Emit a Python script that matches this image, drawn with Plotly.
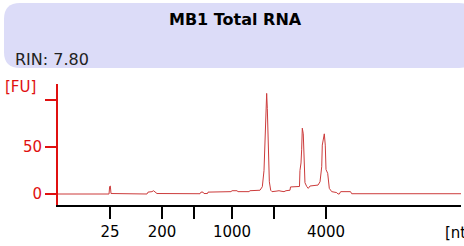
import plotly.graph_objects as go

# Electropherogram (migration time in seconds vs fluorescence units)
time_s = [19.00, 25.20, 25.33, 25.41, 25.49, 25.58, 30.04, 30.17, 30.66, 30.85,
          31.03, 31.28, 36.62, 36.74, 36.99, 37.11, 37.55, 37.61, 40.46, 40.59,
          41.21, 41.33, 42.70, 42.82, 44.06, 44.35, 44.56, 44.68, 44.81, 44.89,
          44.97, 45.09, 45.22, 45.39, 45.55, 46.05, 46.42, 46.67, 47.04, 47.29,
          47.78, 47.85, 48.96, 49.02, 49.15, 49.23, 49.31, 49.43, 49.56, 49.64,
          49.86, 50.05, 50.27, 51.26, 51.51, 51.72, 51.79, 51.92, 52.04, 52.16,
          52.25, 52.46, 52.66, 52.96, 53.58, 53.74, 53.90, 54.07, 55.29, 55.44,
          69.00]
fu = [0.0, 0.0, 0.0, 8.0, 8.5, 0.5, 0.0, 2.0, 2.5, 3.5,
      2.5, 0.5, 0.3, 2.0, 2.0, 0.5, 0.5, 2.0, 2.5, 3.5,
      3.5, 2.5, 2.5, 3.5, 4.0, 7.7, 25.0, 52.0, 95.0, 107.0,
      91.0, 56.0, 13.0, 4.0, 2.5, 3.0, 3.5, 3.0, 2.5, 3.5,
      4.0, 7.5, 8.0, 25.0, 33.0, 47.0, 70.0, 64.0, 36.0, 12.0,
      8.0, 6.0, 8.5, 9.5, 13.0, 29.0, 52.0, 57.0, 64.0, 52.0,
      26.0, 22.0, 6.0, 2.5, 1.5, 0.0, 0.0, 2.5, 2.5, 0.3,
      0.3]

ladder_times = [25.45, 31.90, 35.87, 40.59, 45.80, 52.25]
ladder_labels = ["25", "200", "", "1000", "", "4000"]
y_ticks = [0, 50, 100]
y_tick_labels = ["0", "50", ""]

title = "MB1 Total RNA"
rin_text = "RIN: 7.80"

W, H = 464, 246
ML, MR, MT, MB = 58, 3, 84, 41
PW, PH = W - ML - MR, H - MT - MB


def px(x):
    return (x - ML) / PW


def py(y):
    return (H - MB - y) / PH


fig = go.Figure()
fig.add_trace(go.Scatter(x=time_s, y=fu, mode="lines",
                         line=dict(color="#cc3b3b", width=1),
                         hoverinfo="skip", showlegend=False))

# rounded lavender header box
x0, x1, y0, y1, r = 4, 475, 3, 68, 16
path = (f"M {px(x0 + r)} {py(y0)} L {px(x1 - r)} {py(y0)} "
        f"Q {px(x1)} {py(y0)} {px(x1)} {py(y0 + r)} L {px(x1)} {py(y1 - r)} "
        f"Q {px(x1)} {py(y1)} {px(x1 - r)} {py(y1)} L {px(x0 + r)} {py(y1)} "
        f"Q {px(x0)} {py(y1)} {px(x0)} {py(y1 - r)} L {px(x0)} {py(y0 + r)} "
        f"Q {px(x0)} {py(y0)} {px(x0 + r)} {py(y0)} Z")
fig.add_shape(type="path", path=path, xref="paper", yref="paper",
              fillcolor="#dcdcf8", line=dict(width=0), layer="below")

font = "DejaVu Sans"
fig.add_annotation(text=f"<b>{title}</b>", x=px(235), y=py(19), xref="paper", yref="paper",
                   xanchor="center", yanchor="middle", showarrow=False,
                   font=dict(family=font, size=16, color="black"))
fig.add_annotation(text=rin_text, x=px(13), y=py(59), xref="paper", yref="paper",
                   xanchor="left", yanchor="middle", showarrow=False,
                   font=dict(family=font, size=16, color="#222222"))
fig.add_annotation(text="[FU]", x=px(3), y=py(87), xref="paper", yref="paper",
                   xanchor="left", yanchor="middle", showarrow=False,
                   font=dict(family=font, size=15, color="#e01010"))
fig.add_annotation(text="[nt]", x=px(443), y=py(233), xref="paper", yref="paper",
                   xanchor="left", yanchor="middle", showarrow=False,
                   font=dict(family=font, size=15, color="black"))

fig.update_layout(
    width=W, height=H,
    margin=dict(l=ML, r=MR, t=MT, b=MB, pad=0, autoexpand=False),
    paper_bgcolor="white", plot_bgcolor="white",
    font=dict(family=font, size=15),
    xaxis=dict(range=[19, 69], showgrid=False, zeroline=False, automargin=False,
               showline=True, linecolor="black", linewidth=2,
               ticks="outside", ticklen=12, tickwidth=2, tickcolor="black",
               tickvals=ladder_times, ticktext=ladder_labels,
               tickfont=dict(family=font, size=15, color="black")),
    yaxis=dict(range=[-11.7, 117], showgrid=False, zeroline=False, automargin=False,
               showline=True, linecolor="#e01010", linewidth=2,
               ticks="outside", ticklen=11, tickwidth=2, tickcolor="#e01010",
               tickvals=y_ticks, ticktext=y_tick_labels,
               tickfont=dict(family=font, size=15, color="#e01010")),
)

fig.write_html("out.html", config={"displayModeBar": False},
               post_script="document.body.style.margin='0';")
